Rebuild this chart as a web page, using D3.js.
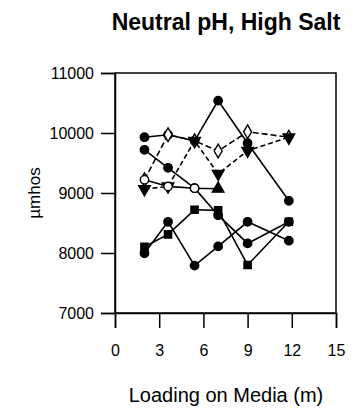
<!DOCTYPE html>
<html>
<head>
<meta charset="utf-8">
<script src="https://cdn.jsdelivr.net/npm/d3@7/dist/d3.min.js"></script>
<style>
  html, body { margin: 0; padding: 0; background: #fff; }
  svg { display: block; }
  text { font-family: "Liberation Sans", Arial, Helvetica, sans-serif; fill: #000; }
</style>
</head>
<body>
<div id="chart"></div>
<script>
// Loading positions (m) at which conductivity was measured
const loadings = [2, 3.6, 5.4, 7, 9, 11.8];

// Conductivity readings (µmhos) for each run; null = not measured
const runA = [9930, 9970, 9870, 10540, 9830, 8870];
const runB = [9220, 9970, 9870, 9700, 10020, 9930];
const runC = [9065, 9110, 9870, 9320, 9705, 9930];
const runD = [9720, 9420, 9080, 8630, 8160, 8520];
const runE = [9220, 9110, 9080, 9070, null, null];
const runF = [8105, 8310, 8720, 8710, 7800, 8520];
const runG = [7995, 8520, 7790, 8110, 8520, 8205];

const xTicks = [0, 3, 6, 9, 12, 15];
const yTicks = [7000, 8000, 9000, 10000, 11000];

const titleText = "Neutral pH, High Salt";
const xTitle = "Loading on Media (m)";
const yTitle = "µmhos";

// Drawing style for each run
const runs = [
  { values: runA, dash: null,  symbol: "circle",   open: false },
  { values: runB, dash: "6,3", symbol: "diamond",  open: true  },
  { values: runC, dash: "5,3", symbol: "triDown",  open: false },
  { values: runD, dash: null,  symbol: "circle",   open: false },
  { values: runE, dash: null,  symbol: "circle",   open: true, lastSymbol: "triUp" },
  { values: runF, dash: null,  symbol: "square",   open: false },
  { values: runG, dash: null,  symbol: "circle",   open: false }
];

const W = 353, H = 410;
const svg = d3.select("#chart").append("svg").attr("width", W).attr("height", H);

const x = d3.scaleLinear().domain([0, 15]).range([115, 336]);
const y = d3.scaleLinear().domain([7000, 11000]).range([313, 73]);

// Frame
svg.append("rect")
  .attr("x", x(0)).attr("y", y(11000))
  .attr("width", x(15) - x(0)).attr("height", y(7000) - y(11000))
  .attr("fill", "none").attr("stroke", "#000").attr("stroke-width", 1.5);

// Axes with outward ticks
const xAxis = svg.append("g").attr("transform", `translate(0,${y(7000)})`)
  .call(d3.axisBottom(x).tickValues(xTicks).tickSize(15).tickPadding(17).tickFormat(d3.format("d")));
const yAxis = svg.append("g").attr("transform", `translate(${x(0)},0)`)
  .call(d3.axisLeft(y).tickValues(yTicks).tickSize(14).tickPadding(7).tickFormat(d3.format("d")));
[xAxis, yAxis].forEach(g => {
  g.select(".domain").attr("stroke", "#000").attr("stroke-width", 1.5);
  g.selectAll(".tick line").attr("stroke", "#000").attr("stroke-width", 1.5);
  g.selectAll(".tick text").attr("font-size", 16).attr("font-family", "Liberation Sans, Arial, sans-serif");
});

// Lines
const line = d3.line()
  .defined(d => d.v != null)
  .x(d => x(d.x)).y(d => y(d.v));

runs.forEach(r => {
  const pts = loadings.map((lx, i) => ({ x: lx, v: r.values[i] }));
  svg.append("path")
    .datum(pts)
    .attr("d", line)
    .attr("fill", "none")
    .attr("stroke", "#000")
    .attr("stroke-width", 1.6)
    .attr("stroke-dasharray", r.dash);
});

// Markers
const symbolOf = {
  circle:  { type: d3.symbolCircle,   size: 55, rot: 0 },
  square:  { type: d3.symbolSquare,   size: 52, rot: 0 },
  diamond: { type: d3.symbolDiamond,  size: 55, rot: 0 },
  triUp:   { type: d3.symbolTriangle, size: 58, rot: 0 },
  triDown: { type: d3.symbolTriangle, size: 58, rot: 180 }
};

runs.forEach(r => {
  const pts = loadings.map((lx, i) => ({ x: lx, v: r.values[i], i }))
    .filter(d => d.v != null);
  const lastIdx = pts.length - 1;
  const pick = k => symbolOf[(k === lastIdx && r.lastSymbol) ? r.lastSymbol : r.symbol];
  svg.append("g").selectAll("path")
    .data(pts)
    .join("path")
    .attr("d", (d, k) => d3.symbol().type(pick(k).type).size(pick(k).size)())
    .attr("transform", (d, k) => `translate(${x(d.x)},${y(d.v)}) rotate(${pick(k).rot})`)
    .attr("fill", (d, k) => (k === lastIdx && r.lastSymbol) ? "#000" : (r.open ? "#fff" : "#000"))
    .attr("stroke", "#000")
    .attr("stroke-width", 1.4);
});

// Titles
svg.append("text")
  .attr("x", 226).attr("y", 30)
  .attr("text-anchor", "middle")
  .attr("font-size", 23).attr("font-weight", "bold")
  .text(titleText);

svg.append("text")
  .attr("x", 226).attr("y", 402)
  .attr("text-anchor", "middle")
  .attr("font-size", 20)
  .text(xTitle);

svg.append("text")
  .attr("transform", `translate(40,${(y(7000) + y(11000)) / 2}) rotate(-90)`)
  .attr("text-anchor", "middle")
  .attr("font-size", 17)
  .text(yTitle);
</script>
</body>
</html>
